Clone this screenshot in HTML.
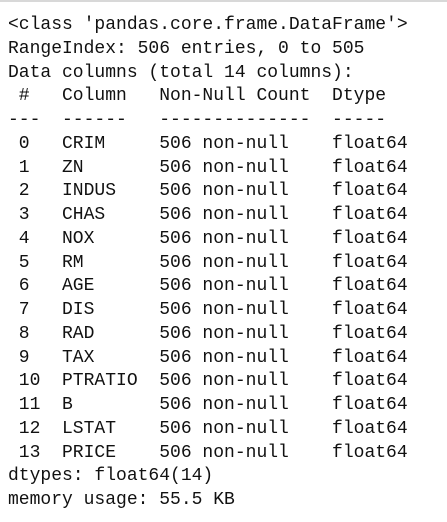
<!DOCTYPE html>
<html><head><meta charset="utf-8"><style>
html,body{margin:0;padding:0;background:#fff;width:447px;height:522px;overflow:hidden}
.top{position:absolute;left:0;top:0;width:447px;height:2px;background:#d8d8d8}
pre{position:absolute;left:8px;top:14px;margin:0;font-family:"Liberation Mono",monospace;font-size:18px;line-height:23.75px;color:#111}
</style></head><body>
<div class="top"></div>
<pre>&lt;class 'pandas.core.frame.DataFrame'&gt;
RangeIndex: 506 entries, 0 to 505
Data columns (total 14 columns):
 #   Column   Non-Null Count  Dtype  
---  ------   --------------  -----  
 0   CRIM     506 non-null    float64
 1   ZN       506 non-null    float64
 2   INDUS    506 non-null    float64
 3   CHAS     506 non-null    float64
 4   NOX      506 non-null    float64
 5   RM       506 non-null    float64
 6   AGE      506 non-null    float64
 7   DIS      506 non-null    float64
 8   RAD      506 non-null    float64
 9   TAX      506 non-null    float64
 10  PTRATIO  506 non-null    float64
 11  B        506 non-null    float64
 12  LSTAT    506 non-null    float64
 13  PRICE    506 non-null    float64
dtypes: float64(14)
memory usage: 55.5 KB</pre>
</body></html>
